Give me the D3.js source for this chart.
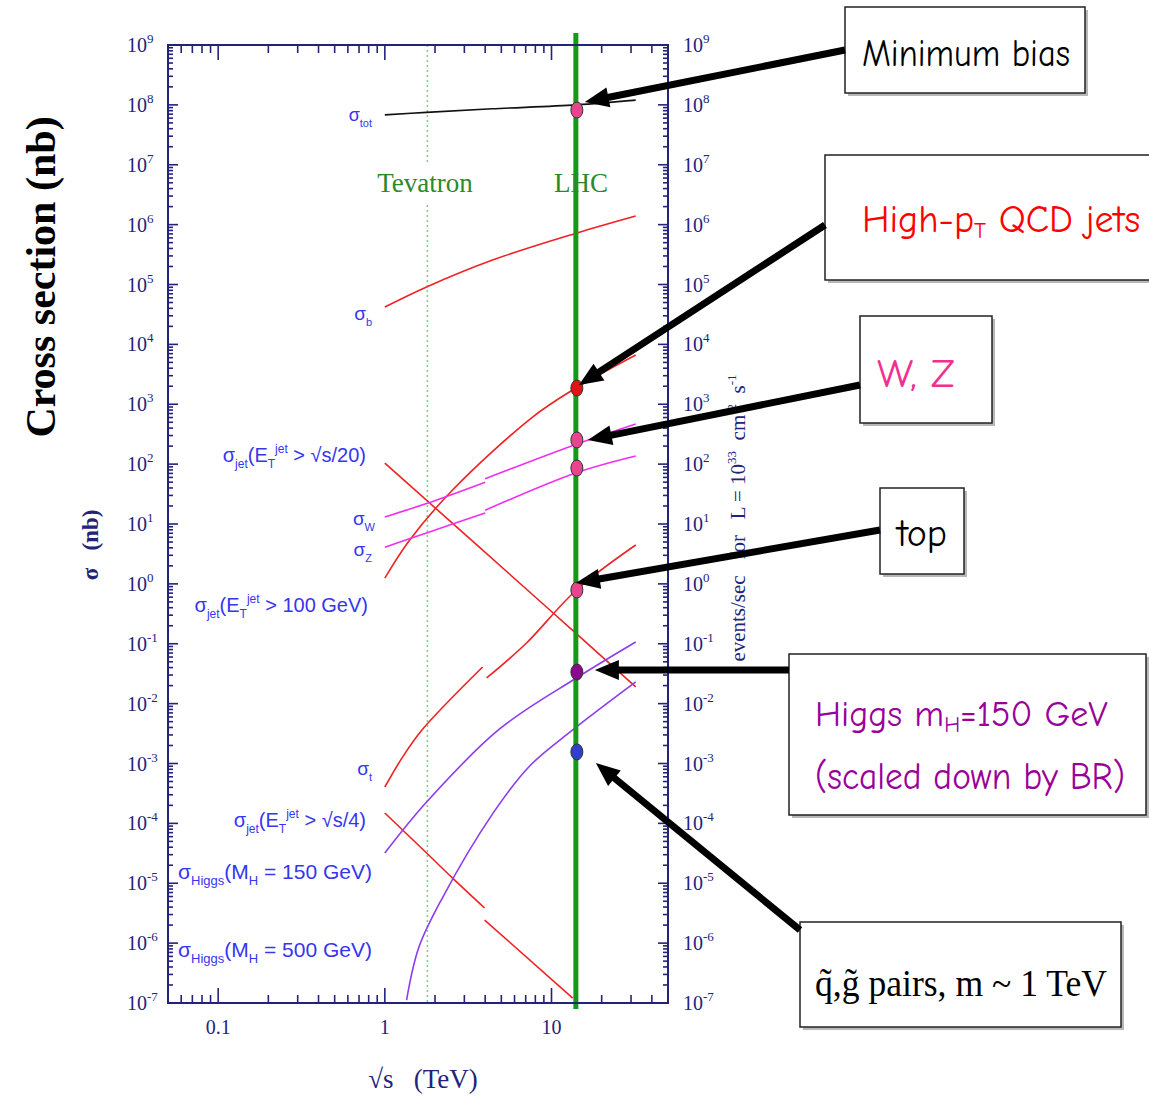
<!DOCTYPE html>
<html>
<head>
<meta charset="utf-8">
<script src="https://cdn.jsdelivr.net/npm/d3@7"></script>
<style>
body { margin: 0; background: #fff; }
svg { display: block; }
text { white-space: pre; }
</style>
</head>
<body>
<div id="chart"></div>
<script>
// cross sections: [sqrt(s) in TeV, sigma in nb]
var sigTot    = [[1, 6.8e7], [1.78, 7.5e7], [4.4, 8.6e7], [14.1, 1.0e8], [32, 1.2e8]];
var sigB      = [[1, 4.2e4], [1.78, 9.1e4], [4.43, 2.56e5], [14.1, 7.2e5], [32, 1.39e6]];
var sigJet100 = [[1, 1.25], [1.41, 5.4], [2.55, 37], [7.7, 612], [13.4, 1730], [32, 6650]];
var sigJet20  = [[1, 104], [9.73, 0.37], [32, 0.019]];
var sigWLow   = [[1, 13.1], [1.78, 22], [4.0, 50]];
var sigWHigh  = [[4.0, 57], [14.1, 215], [32, 468]];
var sigZLow   = [[1, 4.1], [1.78, 7.1], [4.0, 15.3]];
var sigZHigh  = [[4.0, 17], [14.1, 72], [32, 137]];
var sigTopLow  = [[1, 4.05e-4], [1.28, 1.29e-3], [1.67, 3.63e-3], [3.86, 4.09e-2]];
var sigTopHigh = [[4.08, 2.68e-2], [7.08, 0.103], [14.1, 0.79], [32, 4.46]];
var sigJet4Low  = [[1, 1.49e-4], [1.78, 3.2e-5], [2.55, 1.22e-5], [3.97, 3.86e-6]];
var sigJet4High = [[3.97, 2.43e-6], [13.4, 1.21e-7]];
var sigH150   = [[1, 3.2e-5], [1.78, 2.27e-4], [4.88, 3.77e-3], [14.1, 2.68e-2], [32, 0.107]];
var sigH500   = [[1.35, 1.12e-7], [1.6, 8.5e-7], [2.2, 5.5e-6], [4.43, 1.44e-4], [7.4, 9.1e-4], [13.4, 3.63e-3], [32, 2.3e-2]];

// markers on the LHC line (14 TeV): min bias, jets, W, Z, top, Higgs, squark/gluino
var lhcEnergy = 14;
var tevEnergy = 1.8;
var lhcDotValues = [8.2e7, 1860, 253, 86, 0.79, 0.0337, 1.56e-3];

// tick labels
var xTickLabels = ["0.1", "1", "10"];
var xTickValues = [0.1, 1, 10];
var yExponents = d3.range(-7, 10);

var W = 1149, H = 1096;
var margin = {top: 45, left: 168},
    width = 500, height = 958;

var svg = d3.select("#chart").append("svg")
    .attr("width", W)
    .attr("height", H)
    .style("font-family", "Liberation Sans, Arial, sans-serif");

var x = d3.scaleLog().domain([0.05, 50]).range([margin.left, margin.left + width]);
var y = d3.scaleLog().domain([1e-7, 1e9]).range([margin.top + height, margin.top]);

var navy = "#23237a";
var serif = "Liberation Serif, Times New Roman, serif";

// ---- Tevatron dotted line
svg.append("line")
    .attr("x1", x(tevEnergy)).attr("x2", x(tevEnergy))
    .attr("y1", y(1e9)).attr("y2", y(1e-7))
    .attr("stroke", "#88cc88")
    .attr("stroke-width", 1.6)
    .attr("stroke-dasharray", "2,3");

// ---- curves
var line = d3.line()
    .x(function(d) { return x(d[0]); })
    .y(function(d) { return y(d[1]); })
    .curve(d3.curveCatmullRom.alpha(0.5));

var red = "#ee2222", pink = "#ee30ee", violet = "#8c3cf0";
var curves = [
  {d: sigTot, c: "#111"},
  {d: sigB, c: red},
  {d: sigJet100, c: red},
  {d: sigJet20, c: red},
  {d: sigWLow, c: pink},
  {d: sigWHigh, c: pink},
  {d: sigZLow, c: pink},
  {d: sigZHigh, c: pink},
  {d: sigTopLow, c: red},
  {d: sigTopHigh, c: red},
  {d: sigJet4Low, c: red},
  {d: sigJet4High, c: red},
  {d: sigH150, c: violet},
  {d: sigH500, c: violet}
];

svg.selectAll(".curve")
    .data(curves)
  .enter().append("path")
    .attr("class", "curve")
    .attr("d", function(d) { return line(d.d); })
    .attr("fill", "none")
    .attr("stroke", function(d) { return d.c; })
    .attr("stroke-width", 1.6);

// ---- Tevatron / LHC labels
svg.append("rect")
    .attr("x", 374).attr("y", 163).attr("width", 104).attr("height", 42)
    .attr("fill", "#fff");
svg.append("text")
    .attr("x", 425).attr("y", 192)
    .attr("text-anchor", "middle")
    .style("font-family", serif)
    .style("font-size", "27px")
    .attr("fill", "#2a8a2a")
    .text("Tevatron");

// ---- LHC line
svg.append("line")
    .attr("x1", x(lhcEnergy)).attr("x2", x(lhcEnergy))
    .attr("y1", 33).attr("y2", 1009)
    .attr("stroke", "#14991a")
    .attr("stroke-width", 5);

svg.append("text")
    .attr("x", 581).attr("y", 192)
    .attr("text-anchor", "middle")
    .style("font-family", serif)
    .style("font-size", "27px")
    .attr("fill", "#2a8a2a")
    .text("LHC");

// ---- frame and ticks
svg.append("rect")
    .attr("x", margin.left).attr("y", margin.top)
    .attr("width", width).attr("height", height)
    .attr("fill", "none")
    .attr("stroke", navy)
    .attr("stroke-width", 2);

var xMinor = [];
[0.01, 0.1, 1, 10].forEach(function(dec) {
  for (var m = 2; m <= 9; m++) {
    var v = m * dec;
    if (v > 0.05 && v < 50 && xTickValues.indexOf(v) < 0) xMinor.push(v);
  }
});
var yMinor = [];
yExponents.forEach(function(e) {
  for (var m = 2; m <= 9; m++) {
    var v = m * Math.pow(10, e);
    if (v < 1e9) yMinor.push(v);
  }
});
var yMajor = yExponents.map(function(e) { return Math.pow(10, e); });

var ticks = svg.append("g").attr("stroke", navy).attr("stroke-width", 1.6);
function xTick(v, len) {
  ticks.append("line").attr("x1", x(v)).attr("x2", x(v))
      .attr("y1", margin.top).attr("y2", margin.top + len);
  ticks.append("line").attr("x1", x(v)).attr("x2", x(v))
      .attr("y1", margin.top + height).attr("y2", margin.top + height - len);
}
function yTick(v, len) {
  ticks.append("line").attr("y1", y(v)).attr("y2", y(v))
      .attr("x1", margin.left).attr("x2", margin.left + len);
  ticks.append("line").attr("y1", y(v)).attr("y2", y(v))
      .attr("x1", margin.left + width).attr("x2", margin.left + width - len);
}
xMinor.forEach(function(v) { xTick(v, 8); });
xTickValues.forEach(function(v) { xTick(v, 15); });
yMinor.forEach(function(v) { yTick(v, 5); });
yMajor.forEach(function(v) { yTick(v, 10); });

// x tick labels
svg.selectAll(".xlab")
    .data(xTickValues)
  .enter().append("text")
    .attr("x", function(d) { return x(d); })
    .attr("y", 1034)
    .attr("text-anchor", "middle")
    .style("font-family", serif)
    .style("font-size", "20px")
    .attr("fill", navy)
    .text(function(d, i) { return xTickLabels[i]; });

// y tick labels, both sides
function yLabels(xpos) {
  var t = svg.selectAll(null)
      .data(yExponents)
    .enter().append("text")
      .attr("x", xpos)
      .attr("y", function(e) { return y(Math.pow(10, e)) + 7; })
      .style("font-family", serif)
      .style("font-size", "20px")
      .attr("fill", navy);
  t.append("tspan").text("10");
  t.append("tspan").attr("dy", -9).style("font-size", "13px")
      .text(function(e) { return e < 0 ? "-" + (-e) : e; });
}
yLabels(127);
yLabels(683);

// axis titles
svg.append("text")
    .attr("transform", "translate(423,1088)")
    .attr("text-anchor", "middle")
    .style("font-family", serif)
    .style("font-size", "27px")
    .attr("fill", navy)
    .text("\u221As   (TeV)");

svg.append("text")
    .attr("transform", "translate(98,545) rotate(-90)")
    .attr("text-anchor", "middle")
    .style("font-family", serif)
    .style("font-size", "23px")
    .style("font-weight", "bold")
    .attr("fill", navy)
    .text("\u03C3   (nb)");

var rt = svg.append("text")
    .attr("transform", "translate(745,518) rotate(-90)")
    .attr("text-anchor", "middle")
    .style("font-family", serif)
    .style("font-size", "21px")
    .attr("fill", navy);
rt.append("tspan").text("events/sec   for   L = 10");
rt.append("tspan").attr("dy", -9).style("font-size", "13px").text("33");
rt.append("tspan").attr("dy", 9).text("  cm");
rt.append("tspan").attr("dy", -9).style("font-size", "13px").text("-2");
rt.append("tspan").attr("dy", 9).text("  s");
rt.append("tspan").attr("dy", -9).style("font-size", "13px").text("-1");

svg.append("text")
    .attr("transform", "translate(55,277) rotate(-90)")
    .attr("text-anchor", "middle")
    .style("font-family", serif)
    .style("font-size", "42px")
    .style("font-weight", "bold")
    .attr("fill", "#000")
    .text("Cross section (nb)");

// ---- curve labels (n = normal, b = subscript, p = superscript)
function richText(sel, parts, size) {
  var shift = 0;
  parts.forEach(function(p) {
    var target = p[1] === "b" ? 6 : (p[1] === "p" ? -9 : 0);
    sel.append("tspan")
        .attr("dy", target - shift)
        .style("font-size", (p[1] === "n" ? size : Math.round(size * 0.6)) + "px")
        .text(p[0]);
    shift = target;
  });
}
var curveLabels = [
  {x: 372, y: 121, s: 18, parts: [["\u03C3", "n"], ["tot", "b"]]},
  {x: 372, y: 320, s: 19, parts: [["\u03C3", "n"], ["b", "b"]]},
  {x: 366, y: 462, s: 20, parts: [["\u03C3", "n"], ["jet", "b"], ["(E", "n"], ["T", "b"], ["jet", "p"], [" > \u221As/20)", "n"]]},
  {x: 375, y: 525, s: 19, parts: [["\u03C3", "n"], ["W", "b"]]},
  {x: 372, y: 556, s: 19, parts: [["\u03C3", "n"], ["Z", "b"]]},
  {x: 368, y: 612, s: 20, parts: [["\u03C3", "n"], ["jet", "b"], ["(E", "n"], ["T", "b"], ["jet", "p"], [" > 100 GeV)", "n"]]},
  {x: 372, y: 775, s: 19, parts: [["\u03C3", "n"], ["t", "b"]]},
  {x: 366, y: 827, s: 20, parts: [["\u03C3", "n"], ["jet", "b"], ["(E", "n"], ["T", "b"], ["jet", "p"], [" > \u221As/4)", "n"]]},
  {x: 372, y: 879, s: 21, parts: [["\u03C3", "n"], ["Higgs", "b"], ["(M", "n"], ["H", "b"], [" = 150 GeV)", "n"]]},
  {x: 372, y: 957, s: 21, parts: [["\u03C3", "n"], ["Higgs", "b"], ["(M", "n"], ["H", "b"], [" = 500 GeV)", "n"]]}
];
curveLabels.forEach(function(l) {
  var t = svg.append("text")
      .attr("x", l.x).attr("y", l.y)
      .attr("text-anchor", "end")
      .attr("fill", "#3636ee");
  richText(t, l.parts, l.s);
});

// ---- dots on LHC line
var dotColors = ["#e8458f", "#e01414", "#e8458f", "#e8458f", "#e8458f", "#8b0a8b", "#3040c8"];
svg.selectAll(".dot")
    .data(lhcDotValues)
  .enter().append("ellipse")
    .attr("class", "dot")
    .attr("cx", x(lhcEnergy) + 1)
    .attr("cy", function(d) { return y(d); })
    .attr("rx", 6).attr("ry", 8)
    .attr("fill", function(d, i) { return dotColors[i]; })
    .attr("stroke", "#333")
    .attr("stroke-width", 1);

// ---- annotation boxes
var boxes = [
  {x: 845, y: 7, w: 240, h: 86},
  {x: 825, y: 155, w: 330, h: 125},
  {x: 860, y: 316, w: 132, h: 107},
  {x: 880, y: 488, w: 84, h: 86},
  {x: 789, y: 654, w: 357, h: 161},
  {x: 800, y: 922, w: 321, h: 105}
];
boxes.forEach(function(b) {
  svg.append("rect").attr("x", b.x + 3).attr("y", b.y + 3)
      .attr("width", b.w).attr("height", b.h).attr("fill", "#b8b8b8");
  svg.append("rect").attr("x", b.x).attr("y", b.y)
      .attr("width", b.w).attr("height", b.h)
      .attr("fill", "#fff").attr("stroke", "#222").attr("stroke-width", 1.5);
});

var comic = "Comic Sans MS, Comic Neue, Noto Sans, DejaVu Sans, sans-serif";
function boxText(tx, ty, len, size, color, parts, family) {
  var t = svg.append("text")
      .attr("x", tx).attr("y", ty)
      .style("font-family", family || comic)
      .style("font-size", size + "px")
      .attr("fill", color);
  if (typeof parts === "string") {
    t.attr("textLength", len).attr("lengthAdjust", "spacingAndGlyphs").text(parts);
  } else {
    richText(t, parts, size);
  }
}
boxText(862, 66, 208, 38, "#000", "Minimum bias");
boxText(862, 232, 0, 38, "#ff0000", [["High-p", "n"], ["T", "b"], [" QCD jets", "n"]]);
boxText(877, 387, 78, 40, "#f0308f", "W, Z");
boxText(897, 546, 50, 38, "#000", "top");
boxText(815, 726, 0, 36, "#990099", [["Higgs m", "n"], ["H", "b"], ["=150 GeV", "n"]]);
boxText(815, 789, 310, 38, "#990099", "(scaled down by BR)");
boxText(815, 996, 292, 38, "#000", "q\u0303,g\u0303 pairs, m ~ 1 TeV", serif);

// ---- arrows from boxes to the LHC dots
var arrowTails = [[845, 50], [825, 225], [860, 385], [880, 530], [789, 670], [800, 930]];
var arrowTargets = [0, 1, 2, 4, 5, 6];
var arrowOffsets = [[9, -8], [3, -3], [12, 0], [0, -7], [19, -2], [20, 11]];
arrowTails.forEach(function(t, i) {
  var tipX = x(lhcEnergy) + arrowOffsets[i][0],
      tipY = y(lhcDotValues[arrowTargets[i]]) + arrowOffsets[i][1];
  var dx = tipX - t[0], dy = tipY - t[1], L = Math.sqrt(dx * dx + dy * dy);
  var ux = dx / L, uy = dy / L;
  var headLen = 24, headW = 10;
  var bx = tipX - ux * headLen, by = tipY - uy * headLen;
  svg.append("line")
      .attr("x1", t[0]).attr("y1", t[1])
      .attr("x2", bx + ux * 2).attr("y2", by + uy * 2)
      .attr("stroke", "#000").attr("stroke-width", 7);
  svg.append("path")
      .attr("d", "M" + tipX + "," + tipY +
                 "L" + (bx - uy * headW) + "," + (by + ux * headW) +
                 "L" + (bx + uy * headW) + "," + (by - ux * headW) + "Z")
      .attr("fill", "#000");
});
</script>
</body>
</html>
